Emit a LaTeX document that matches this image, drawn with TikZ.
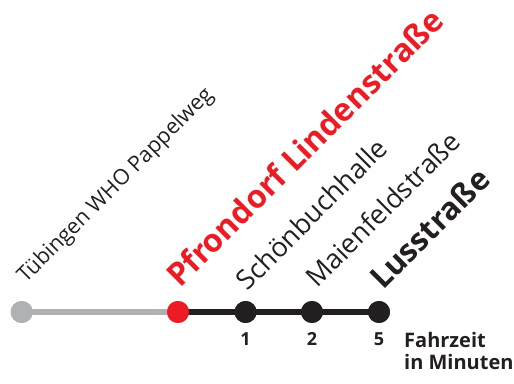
\documentclass[tikz,border=0pt]{standalone}
\usepackage{fontspec}
\setmainfont{Open Sans}
\usepackage{tikz}
\usetikzlibrary{positioning}

\definecolor{linegray}{RGB}{175,177,180}
\definecolor{linered}{RGB}{237,28,36}
\definecolor{lineblack}{RGB}{35,31,32}

\begin{document}
\begin{tikzpicture}[
    x=1pt, y=1pt,
    stop/.style={circle, fill=#1, minimum size=22pt, inner sep=0pt},
    stopname/.style={anchor=base west, rotate=45, inner sep=0pt, text=lineblack},
    minutes/.style={font=\fontsize{18}{18}\selectfont\bfseries, text=lineblack, inner sep=0pt}]

\useasboundingbox (0,0) rectangle (514,383);

% Stops
\node[stop=linegray] (T) at (21.7,71) {};
\node[stop=linered] (P) at (178,71) {};
\node[stop=lineblack] (S) at (245.6,71) {};
\node[stop=lineblack] (M) at (312,71) {};
\node[stop=lineblack] (L) at (379,71) {};

% Line
\draw[linegray, line width=6.5pt] (T.center) -- (P.center);
\draw[lineblack, line width=6.5pt] (P.center) -- (L.center);
\node[stop=linered] at (P) {};
\foreach \s in {S,M,L} \node[stop=lineblack] at (\s) {};
\node[stop=linegray] at (T) {};

% Names
\node[stopname, font=\fontsize{21.5}{21.5}\selectfont] (nT) at ([shift={(4,28)}]T.center) {Tübingen WHO Pappelweg};
\node[stopname, font=\fontsize{32}{32}\selectfont\bfseries, text=linered] (nP) at ([shift={(2,23)}]P.center) {Pfrondorf Lindenstraße};
\node[stopname, font=\fontsize{27}{27}\selectfont] (nS) at ([shift={(2,20)}]S.center) {Schönbuchhalle};
\node[stopname, font=\fontsize{27}{27}\selectfont] (nM) at ([shift={(5,23)}]M.center) {Maienfeldstraße};
\node[stopname, font=\fontsize{31}{31}\selectfont\bfseries] (nL) at ([shift={(4,21)}]L.center) {Lusstraße};

% Travel times
\node[minutes, below=20pt of S.center] (tS) {1};
\node[minutes, below=20pt of M.center] (tM) {2};
\node[minutes, below=20pt of L.center] (tL) {5};
\node[minutes, font=\fontsize{20}{22}\selectfont\bfseries, anchor=north west, align=left] (ft) at (404,51) {Fahrzeit\\in Minuten};
\end{tikzpicture}
\end{document}
